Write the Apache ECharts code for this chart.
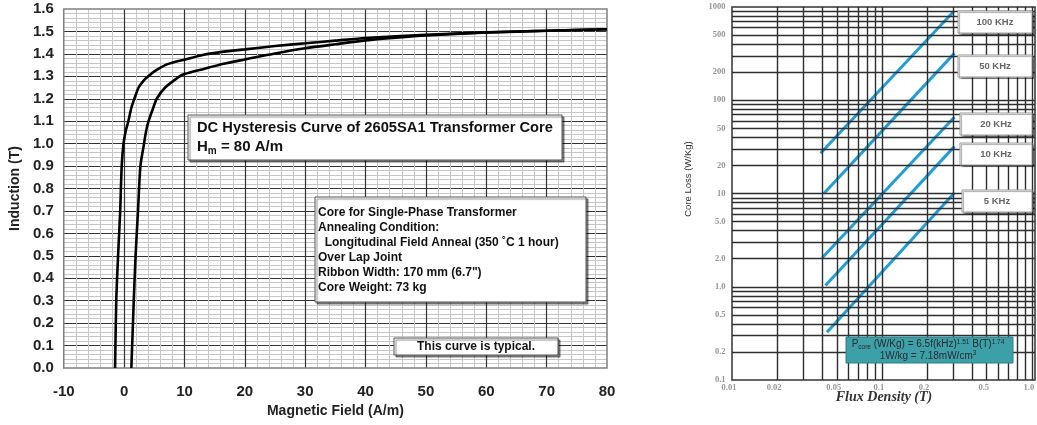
<!DOCTYPE html>
<html><head><meta charset="utf-8">
<script src="https://cdn.jsdelivr.net/npm/echarts@6/dist/echarts.min.js"></script>
<style>html,body{margin:0;padding:0;background:#fff}#c{width:1037px;height:425px}</style>
</head><body><div id="c"></div>
<script>
// ---------- Left chart: DC hysteresis curve (H in A/m, B in T) ----------
const hUpper = [-1.5, -1.3, -1.0, -0.65, -0.4, -0.1, 0.3, 0.7, 1.2, 1.7, 2.4, 3.2, 4.0, 5.2, 6.8, 8.5, 10, 13, 16.5, 20, 25, 30, 35, 40, 50, 60, 70, 80];
const bUpper = [0, 0.3, 0.5, 0.7, 0.9, 1.0, 1.06, 1.1, 1.16, 1.2, 1.25, 1.28, 1.3, 1.325, 1.35, 1.365, 1.374, 1.395, 1.41, 1.42, 1.435, 1.447, 1.459, 1.471, 1.485, 1.496, 1.503, 1.51];
const hLower = [1.2, 1.6, 1.9, 2.3, 2.7, 3.3, 3.6, 4.05, 4.7, 5.4, 6.8, 9.2, 10, 13.2, 16.5, 20, 25, 30, 35, 40, 45, 50, 60, 70, 80];
const bLower = [0, 0.3, 0.5, 0.7, 0.9, 1.0, 1.05, 1.1, 1.15, 1.2, 1.25, 1.3, 1.31, 1.333, 1.356, 1.375, 1.402, 1.425, 1.443, 1.46, 1.472, 1.482, 1.495, 1.503, 1.51];

// ---------- Right chart: core loss vs flux density ----------
const freqNames = ['100 KHz', '50 KHz', '20 KHz', '10 KHz', '5 KHz'];
const fluxStart = [0.039, 0.041, 0.040, 0.042, 0.043];
const fluxEnd   = [0.300, 0.305, 0.305, 0.305, 0.305];
const lossStart = [27, 10, 2.05, 1.03, 0.325];
const lossEnd   = [890, 320, 66, 32, 10.2];
const fluxTicks = [0.01, 0.02, 0.05, 0.1, 0.2, 0.5, 1.0];
const fluxTickText = ['0.01', '0.02', '0.05', '0.1', '0.2', '0.5', '1.0'];
const lossTicks = [1000, 500, 200, 100, 50, 20, 10, 5, 2, 1, 0.5, 0.2, 0.1];
const lossTickText = ['1000', '500', '200', '100', '50', '20', '10', '5.0', '2.0', '1.0', '0.5', '0.2', '0.1'];
const fluxGrid = [0.02,0.03,0.04,0.05,0.06,0.07,0.08,0.09,0.1,0.2,0.3,0.4,0.5,0.6,0.7,0.8,0.9,1.0];
const lossGrid = [0.2,0.3,0.4,0.5,0.6,0.7,0.8,0.9,1,2,3,4,5,6,7,8,9,10,20,30,40,50,60,70,80,90,100,200,300,400,500,600,700,800,900];

const SANS = '"Liberation Sans", Arial, sans-serif';
const SERIF = '"Liberation Serif", "Times New Roman", serif';

const chart = echarts.init(document.getElementById('c'), null, {renderer: 'canvas'});

const boxStyle = {fill: '#fff', stroke: '#555', lineWidth: 1, shadowColor: 'rgba(0,0,0,0.45)', shadowOffsetX: 2, shadowOffsetY: 2, shadowBlur: 1};
const tagStyle = {fill: '#fff', stroke: '#9a9a9a', lineWidth: 1, shadowColor: 'rgba(0,0,0,0.35)', shadowOffsetX: 1.5, shadowOffsetY: 1.5, shadowBlur: 1};
const tagBoxes = [[958, 11, 74, 22], [958, 55, 74, 22], [960, 113, 72, 22], [960, 143, 72, 22], [962, 190, 70, 22]];

const graphic = [
  {type: 'rect', z: 10, shape: {x: 188, y: 115, width: 374, height: 45}, style: boxStyle},
  {type: 'text', z: 11, x: 197, y: 127.5, style: {text: 'DC Hysteresis Curve of 2605SA1 Transformer Core', font: 'bold 14.7px ' + SANS, fill: '#111', verticalAlign: 'middle'}},
  {type: 'text', z: 11, x: 197, y: 147, style: {text: '{a|H}{s|m}{a| = 80 A/m}', verticalAlign: 'middle',
     rich: {a: {fontSize: 15, fontWeight: 'bold', fontFamily: SANS, fill: '#111', lineHeight: 18},
            s: {fontSize: 10, fontWeight: 'bold', fontFamily: SANS, fill: '#111', lineHeight: 11, verticalAlign: 'bottom'}}}},
  {type: 'rect', z: 10, shape: {x: 315, y: 197, width: 271, height: 105}, style: boxStyle},
  {type: 'text', z: 11, x: 318, y: 205, style: {text: 'Core for Single-Phase Transformer\nAnnealing Condition:\n  Longitudinal Field Anneal (350 ˚C 1 hour)\nOver Lap Joint\nRibbon Width: 170 mm (6.7")\nCore Weight: 73 kg', font: 'bold 12px ' + SANS, lineHeight: 15, fill: '#111', verticalAlign: 'top'}},
  {type: 'rect', z: 10, shape: {x: 394, y: 338, width: 164, height: 17}, style: boxStyle},
  {type: 'text', z: 11, x: 476, y: 346.5, style: {text: 'This curve is typical.', font: 'bold 12px ' + SANS, fill: '#111', align: 'center', verticalAlign: 'middle'}},
  // right chart titles
  {type: 'text', z: 11, x: 688, y: 179, rotation: Math.PI / 2, style: {text: 'Core Loss (W/Kg)', font: '9.5px ' + SANS, fill: '#333', align: 'center', verticalAlign: 'middle'}},
  {type: 'text', z: 11, x: 884, y: 397, style: {text: 'Flux Density (T)', font: 'italic bold 14px ' + SERIF, fill: '#333', align: 'center', verticalAlign: 'middle'}},
  // formula box
  {type: 'rect', z: 10, shape: {x: 846, y: 337, width: 167, height: 26}, style: {fill: '#3d9fa8', stroke: '#2c7f88', lineWidth: 1}},
  {type: 'text', z: 11, x: 928, y: 344.5, style: {text: '{a|P}{s|core}{a| (W/Kg) = 6.5f(kHz)}{p|1.51}{a| B(T)}{p|1.74}', align: 'center', verticalAlign: 'middle',
     rich: {a: {fontSize: 10, fontFamily: SANS, fill: '#2b2b2b', lineHeight: 12},
            s: {fontSize: 6.5, fontFamily: SANS, fill: '#2b2b2b', lineHeight: 8, verticalAlign: 'bottom'},
            p: {fontSize: 6.5, fontFamily: SANS, fill: '#2b2b2b', lineHeight: 8, verticalAlign: 'top'}}}},
  {type: 'text', z: 11, x: 928, y: 356, style: {text: '{a|1W/kg = 7.18mW/cm}{p|3}', align: 'center', verticalAlign: 'middle',
     rich: {a: {fontSize: 10, fontFamily: SANS, fill: '#2b2b2b', lineHeight: 12},
            p: {fontSize: 6.5, fontFamily: SANS, fill: '#2b2b2b', lineHeight: 8, verticalAlign: 'top'}}}}
];
tagBoxes.forEach((b, i) => {
  graphic.push({type: 'rect', z: 10, shape: {x: b[0], y: b[1], width: b[2], height: b[3]}, style: tagStyle});
  graphic.push({type: 'text', z: 11, x: b[0] + b[2] / 2, y: b[1] + b[3] / 2, style: {text: freqNames[i], font: 'bold 9.5px ' + SANS, fill: '#666', align: 'center', verticalAlign: 'middle'}});
});

const gridLineData = fluxGrid.map(v => ({xAxis: v})).concat(lossGrid.map(v => ({yAxis: v})));

const series = [
  {type: 'line', xAxisIndex: 0, yAxisIndex: 0, data: hUpper.map((h, i) => [h, bUpper[i]]), smooth: 0.25, symbol: 'none', lineStyle: {color: '#000', width: 2.6}, z: 5},
  {type: 'line', xAxisIndex: 0, yAxisIndex: 0, data: hLower.map((h, i) => [h, bLower[i]]), smooth: 0.25, symbol: 'none', lineStyle: {color: '#000', width: 2.6}, z: 5},
  {type: 'line', xAxisIndex: 1, yAxisIndex: 1, data: [[0.5, 1]], symbol: 'none', lineStyle: {opacity: 0}, silent: true, z: 1,
   markLine: {silent: true, symbol: ['none', 'none'], label: {show: false}, lineStyle: {color: '#2e2e2e', width: 1.4, type: 'solid'}, emphasis: {disabled: true}, data: gridLineData}},
  {type: 'scatter', xAxisIndex: 1, yAxisIndex: 1, silent: true, symbolSize: 1, itemStyle: {color: 'rgba(0,0,0,0)'},
   data: lossTicks.map((v, i) => ({value: [0.01, v], name: lossTickText[i]})),
   label: {show: true, position: 'left', distance: 6, formatter: '{b}', fontFamily: SERIF, fontWeight: 'bold', fontSize: 8.5, color: '#7a7a7a'}},
  {type: 'scatter', xAxisIndex: 1, yAxisIndex: 1, silent: true, symbolSize: 1, itemStyle: {color: 'rgba(0,0,0,0)'},
   data: fluxTicks.map((v, i) => ({value: [v, 0.1], name: fluxTickText[i]})),
   label: {show: true, position: 'bottom', distance: 3, offset: [-3, 0], formatter: '{b}', fontFamily: SERIF, fontWeight: 'bold', fontSize: 8.5, color: '#7a7a7a'}}
];
freqNames.forEach((n, i) => {
  series.push({type: 'line', name: n, xAxisIndex: 1, yAxisIndex: 1, data: [[fluxStart[i], lossStart[i]], [fluxEnd[i], lossEnd[i]]], symbol: 'none', lineStyle: {color: '#249dd5', width: 3}, z: 4});
});

chart.setOption({
  animation: false,
  backgroundColor: '#fff',
  grid: [
    {left: 58, top: 9, width: 549, height: 359, show: true, borderColor: '#808080', borderWidth: 1.5, z: 3},
    {left: 732, top: 7, width: 303, height: 373, show: true, borderColor: '#333', borderWidth: 1.5, z: 3}
  ],
  xAxis: [
    {type: 'value', gridIndex: 0, min: -10, max: 80, interval: 10,
     name: 'Magnetic Field (A/m)', nameLocation: 'middle', nameGap: 35,
     nameTextStyle: {fontFamily: SANS, fontWeight: 'bold', fontSize: 14, color: '#222'},
     axisLine: {show: false}, axisTick: {show: false},
     axisLabel: {margin: 16, fontFamily: SANS, fontWeight: 'bold', fontSize: 15, color: '#222'},
     splitLine: {show: true, showMinLine: false, showMaxLine: false, lineStyle: {color: '#333', width: 1.2}},
     minorTick: {show: false, splitNumber: 5},
     minorSplitLine: {show: true, lineStyle: {color: '#c6c6c6', width: 1}}},
    {type: 'log', gridIndex: 1, logBase: 10, min: 0.01, max: 1.05,
     axisLine: {show: false}, axisTick: {show: false}, axisLabel: {show: false}, splitLine: {show: false}}
  ],
  yAxis: [
    {type: 'value', gridIndex: 0, min: 0, max: 1.6, interval: 0.1,
     name: 'Induction (T)', nameLocation: 'middle', nameGap: 37,
     nameTextStyle: {fontFamily: SANS, fontWeight: 'bold', fontSize: 14, color: '#222'},
     axisLine: {show: false}, axisTick: {show: false},
     axisLabel: {margin: 10, fontFamily: SANS, fontWeight: 'bold', fontSize: 15, color: '#222', formatter: v => v.toFixed(1)},
     splitLine: {show: true, showMinLine: false, showMaxLine: false, lineStyle: {color: '#333', width: 1.2}},
     minorTick: {show: false, splitNumber: 5},
     minorSplitLine: {show: true, lineStyle: {color: '#c6c6c6', width: 1}}},
    {type: 'log', gridIndex: 1, logBase: 10, min: 0.1, max: 1000,
     axisLine: {show: false}, axisTick: {show: false}, axisLabel: {show: false}, splitLine: {show: false}}
  ],
  graphic: graphic,
  series: series
});
</script></body></html>
